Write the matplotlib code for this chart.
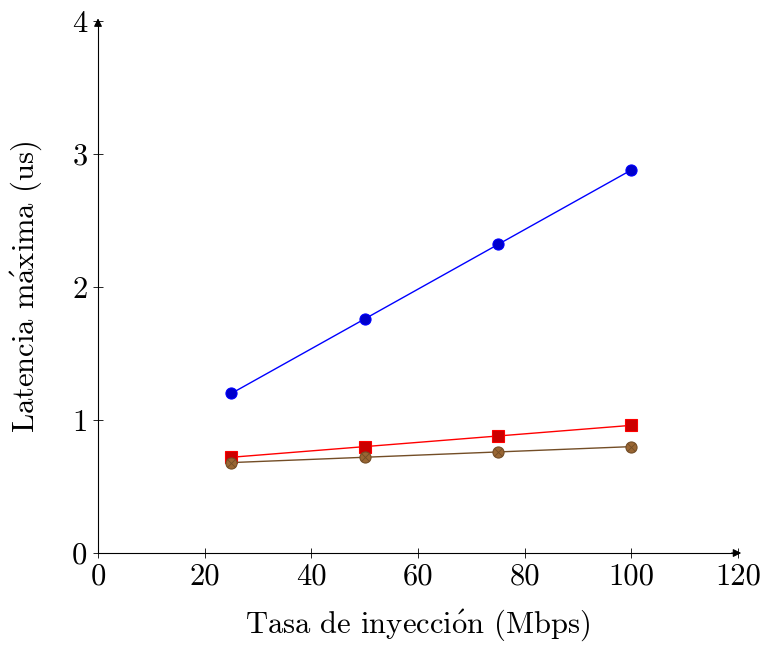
import numpy as np
import matplotlib
matplotlib.use("Agg")
import matplotlib.pyplot as plt

# Latencia máxima frente a tasa de inyección
tasa = [25, 50, 75, 100]
lat_a = [1.20, 1.76, 2.32, 2.88]
lat_b = [0.72, 0.80, 0.88, 0.96]
lat_c = [0.68, 0.72, 0.76, 0.80]

xticks = [0, 20, 40, 60, 80, 100, 120]
yticks = [0, 1, 2, 3, 4]

plt.rcParams['font.family'] = 'serif'
plt.rcParams['font.serif'] = ['cmr10']
plt.rcParams['mathtext.fontset'] = 'cm'
plt.rcParams['axes.unicode_minus'] = False

fig = plt.figure(figsize=(7.61, 6.45), dpi=100)
ax = fig.add_axes([0.1288, 0.1426, 0.8410, 0.8248])

ax.plot(tasa, lat_a, color='#0000ff', lw=1, marker='o', ms=8,
        mfc='#0000cc', mec='#0000ff', mew=0.8)
ax.plot(tasa, lat_b, color='#ff0000', lw=1, marker='s', ms=8,
        mfc='#cc0000', mec='#ff0000', mew=0.8)
ax.plot(tasa, lat_c, color='#734d26', lw=1, marker='o', ms=8,
        mfc='#996633', mec='#734d26', mew=0.8)
ax.plot(tasa, lat_c, ls='none', marker='x', ms=5.5, mec='#734d26', mew=0.6)

ax.set_xlim(0, 120)
ax.set_ylim(0, 4)
ax.set_xticks(xticks)
ax.set_yticks(yticks)
ax.tick_params(direction='inout', length=7, width=0.6, labelsize=22, pad=4)

for s in ['top', 'right']:
    ax.spines[s].set_visible(False)
for s in ['left', 'bottom']:
    ax.spines[s].set_linewidth(0.8)

# flechas en los extremos de los ejes
ax.annotate('', xy=(1.005, 0), xytext=(0.99, 0), xycoords='axes fraction',
            arrowprops=dict(arrowstyle='-|>', color='black', lw=0.8,
                            mutation_scale=12, shrinkA=0, shrinkB=0))
ax.annotate('', xy=(0, 1.005), xytext=(0, 0.99), xycoords='axes fraction',
            arrowprops=dict(arrowstyle='-|>', color='black', lw=0.8,
                            mutation_scale=12, shrinkA=0, shrinkB=0))

ax.set_xlabel(r'Tasa de inyecci$\acute{\mathrm{o}}$n (Mbps)', fontsize=22, labelpad=12)
ax.set_ylabel(r'Latencia m$\acute{\mathrm{a}}$xima (us)', fontsize=22, labelpad=20)

fig.savefig('out.png', dpi=100)
